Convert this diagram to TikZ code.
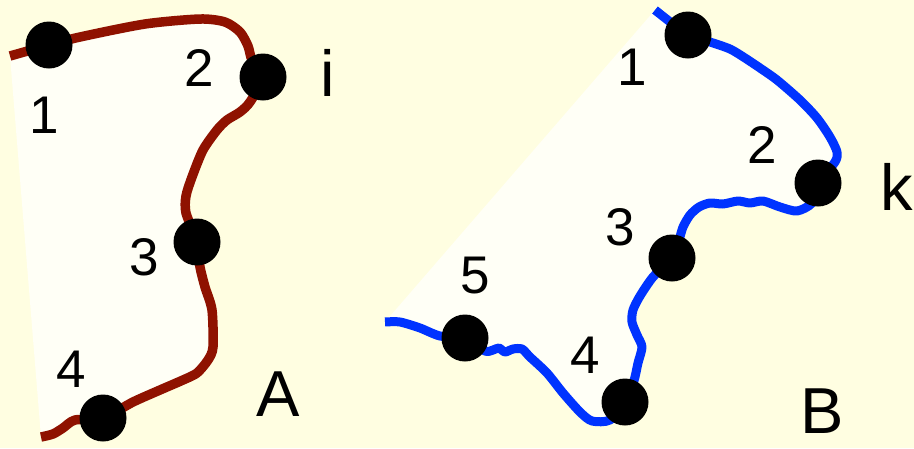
\documentclass[tikz,border=0pt]{standalone}
\usepackage{fontspec}
\setmainfont{Liberation Sans}
\definecolor{bgyellow}{RGB}{255,254,225}
\definecolor{innerfill}{RGB}{255,255,246}
\definecolor{brownline}{RGB}{143,18,0}
\definecolor{blueline}{RGB}{0,51,255}
\tikzset{
  dot/.style={circle,fill=black,minimum size=47pt,inner sep=0pt},
  digit/.style={anchor=base,inner sep=0pt,font=\fontsize{53}{53}\selectfont},
  letter/.style={anchor=base,inner sep=0pt,font=\fontsize{65}{65}\selectfont},
  curveA/.style={draw=brownline,line width=9.5pt,line join=round},
  curveB/.style={draw=blueline,line width=9pt,line join=round},
}
\begin{document}
\begin{tikzpicture}[x=1pt,y=-1pt]
\fill[bgyellow] (0,0) rectangle (914,448);
\useasboundingbox (0,0) rectangle (914,448);
% shape A
\def\pathA{(10,56) (49,45) (80,37) (145,24) (200,19) (225,22) (240,32) (248,46) (252,60) (263,77)
 (250,102) (240,112) (227,120) (217,130) (203,150) (192,177) (186,196) (186,213) (197,242)
 (200,267) (205,287) (212,310) (213,347) (208,360) (197,373) (183,380) (160,390) (133,402) (103,418)
 (75,420) (63,428) (53,434) (41,437)}
\fill[innerfill] plot[smooth,tension=0.45] coordinates {\pathA} -- cycle;
\draw[curveA] plot[smooth,tension=0.45] coordinates {\pathA};
% shape B
\def\pathB{(655,10) (688,35) (710,42) (730,49) (745,58) (760,68) (777,80) (800,100) (817,118) (830,137) (837,152) (835,162) (818,183)
 (812,203) (797,211) (780,207) (763,201) (750,203) (738,201) (723,204) (710,203) (699,207) (690,215) (683,227) (679,240) (672,258)
 (653,277) (640,296) (633,310) (632,322) (637,335) (642,347) (638,363) (635,377) (631,390) (625,402)
 (610,420) (592,421) (580,412) (563,393) (547,373) (530,357) (522,349) (513,349) (505,352) (499,348) (493,350) (485,351) (465,338)
 (440,336) (420,328) (400,322) (385,322)}
\fill[innerfill] plot[smooth,tension=0.45] coordinates {\pathB} -- cycle;
\draw[curveB] plot[smooth,tension=0.45] coordinates {\pathB};
% dots
\node[dot] (a1) at (49,45) {};
\node[dot] (a2) at (263,77) {};
\node[dot] (a3) at (197,242) {};
\node[dot] (a4) at (103,418) {};
\node[dot] (b1) at (688,35) {};
\node[dot] (b2) at (818,183) {};
\node[dot] (b3) at (672,258) {};
\node[dot] (b4) at (625,402) {};
\node[dot] (b5) at (465,338) {};
% labels
\node[digit] (la1) at (44,133) {1};
\node[digit] (la2) at (199,86) {2};
\node[digit] (la3) at (144,275) {3};
\node[digit] (la4) at (71,387) {4};
\node[letter] (li) at (328,96) {i};
\node[letter] (lA) at (278,416) {A};
\node[digit] (lb1) at (632,85) {1};
\node[digit] (lb2) at (762,163) {2};
\node[digit] (lb3) at (620,245) {3};
\node[digit] (lb4) at (585,373) {4};
\node[digit] (lb5) at (475,293) {5};
\node[letter] (lk) at (897,210) {k};
\node[letter] (lB) at (822,433) {B};
\end{tikzpicture}
\end{document}
